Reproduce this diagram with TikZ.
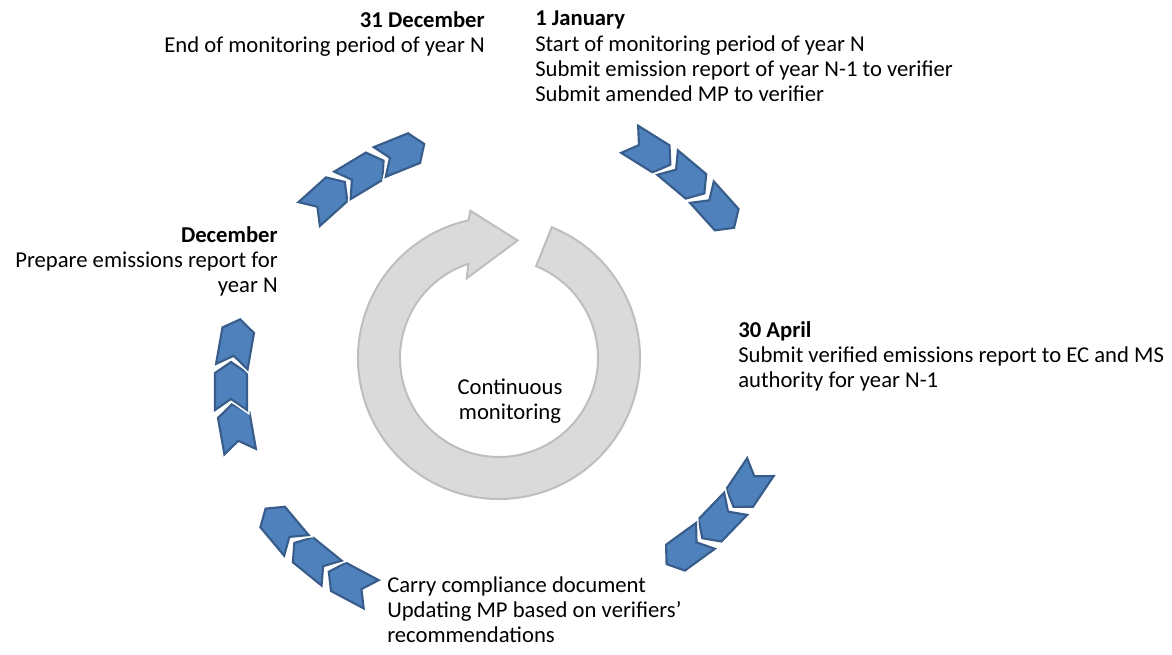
\documentclass[tikz,border=0pt]{standalone}
\usepackage{fontspec}
\setmainfont{Carlito}
\usepackage{xcolor}
\definecolor{chevfill}{HTML}{4F81BD}
\definecolor{chevline}{HTML}{385D8A}
\definecolor{ringfill}{HTML}{DADADA}
\definecolor{ringline}{HTML}{BEBEBE}

\begin{document}
\begin{tikzpicture}[x=0.75pt, y=-0.75pt,
    every node/.style={inner sep=0pt, font=\fontsize{17}{19}\selectfont},
    chevron/.style={fill=chevfill, draw=chevline, line width=1.6pt,
      preaction={draw=white, line width=4pt}},
    ring/.style={fill=ringfill, draw=ringline, line width=1.5pt}]
  \def\cl{24}
  \def\cw{16}
  \def\cp{11}

  \useasboundingbox (0,0) rectangle (1172,655);

  % continuous monitoring ring
  \draw[ring, shift={(499,358)}]
    (-68:141) arc[start angle=-68, end angle=257.5, radius=141]
    -- (259:150) -- (279:119) -- (248:86) -- (252:99)
    arc[start angle=252, end angle=-68, radius=99] -- cycle;
  \node[align=center] (cont) at (510,401) {Continuous\\monitoring};

  % chevrons, tail first
  \foreach \x/\y/\a in {327/198/42, 363/173/31, 402/153/22,
                        650/152/-32, 686/178/-40, 718/210/-48,
                        747/487/-124, 719/521/-134, 686/550/-144,
                        350/583/152, 313/558/141, 281/527/130,
                        236/428/100, 231/386/90, 236/343/80}
    \draw[chevron, shift={(\x,\y)}, rotate=\a]
      (-\cl,-\cw) -- (\cl-\cp,-\cw) -- (\cl,0) -- (\cl-\cp,\cw)
      -- (-\cl,\cw) -- (-\cl+\cp,0) -- cycle;

  % dates
  \node[anchor=north east, align=right] (dec31) at (485,11)
    {\textbf{31 December}\\End of monitoring period of year N};
  \node[anchor=north west, align=left] (jan1) at (535,11)
    {\textbf{1 January}\\Start of monitoring period of year N\\
     Submit emission report of year N-1 to verifier\\
     Submit amended MP to verifier};
  \node[anchor=north west, align=left] (apr30) at (738,321)
    {\textbf{30 April}\\Submit verified emissions report to EC and MS\\
     authority for year N-1};
  \node[anchor=north west, align=left] (carry) at (387,576)
    {Carry compliance document\\Updating MP based on verifiers’\\
     recommendations};
  \node[anchor=north east, align=right] (dec) at (278,226)
    {\textbf{December}\\Prepare emissions report for\\year N};
\end{tikzpicture}
\end{document}
